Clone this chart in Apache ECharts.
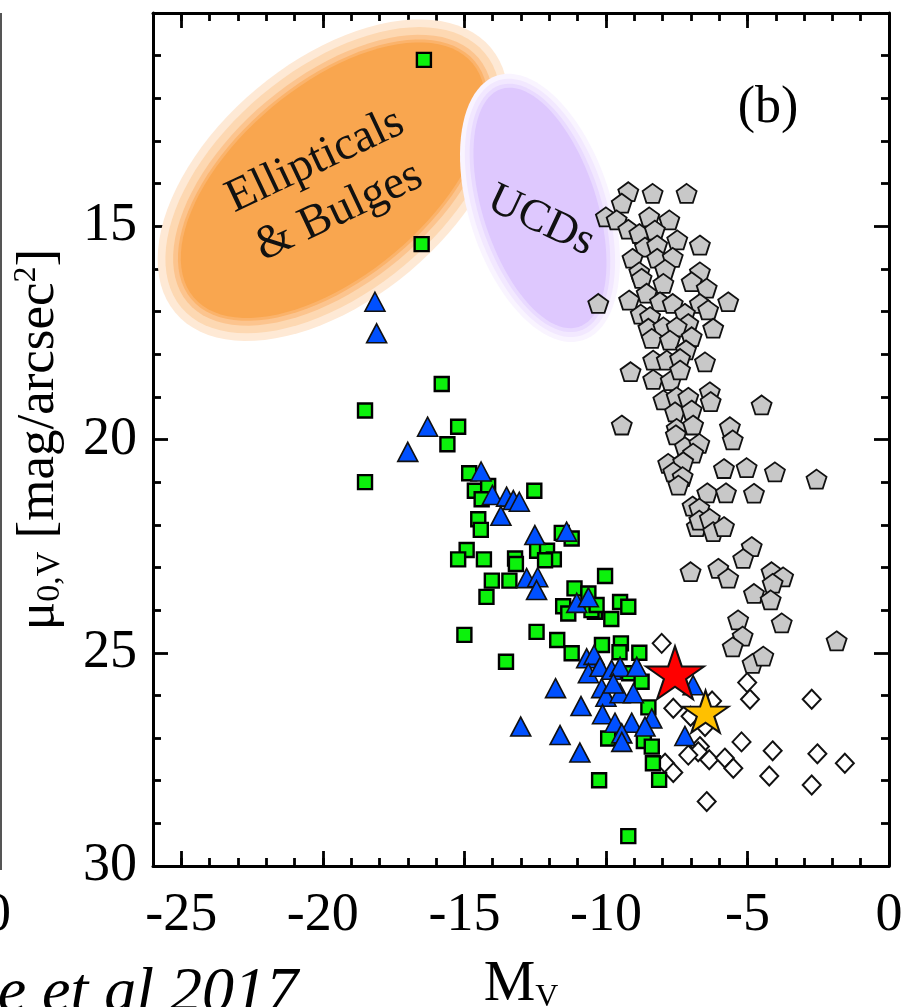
<!DOCTYPE html>
<html><head><meta charset="utf-8">
<script src="https://cdn.jsdelivr.net/npm/echarts@6/dist/echarts.min.js"></script>
<style>html,body{margin:0;padding:0;background:#fff}#c{width:905px;height:1007px}</style>
</head><body><div id="c"></div>
<script>
// ---------- data ----------
const xMajorTicks = [-25, -20, -15, -10, -5, 0];
const yTickLabels = [15, 20, 25, 30];

const greenSquares = [[-16.43,11.10],[-16.51,15.42],[-15.80,18.70],[-18.51,19.32],[-15.22,19.70],[-15.60,20.11],[-18.51,21.00],[-14.83,20.79],[-14.63,21.20],[-14.16,21.09],[-14.39,21.40],[-12.53,21.20],[-14.51,21.87],[-14.42,22.12],[-11.56,22.19],[-11.21,22.32],[-14.92,22.59],[-15.22,22.81],[-14.31,22.81],[-13.21,22.79],[-13.18,22.92],[-12.43,22.61],[-12.08,22.61],[-11.84,22.81],[-12.15,22.83],[-14.03,23.31],[-13.41,23.31],[-14.22,23.69],[-10.03,23.20],[-11.11,23.49],[-10.62,23.61],[-11.51,23.91],[-11.33,24.08],[-10.39,24.04],[-10.51,24.00],[-10.33,23.88],[-9.50,23.81],[-9.21,23.92],[-9.81,24.21],[-15.00,24.58],[-12.45,24.51],[-11.72,24.70],[-13.53,25.21],[-11.21,25.01],[-10.14,24.82],[-9.47,24.78],[-9.52,24.99],[-8.82,25.00],[-9.18,25.48],[-8.74,25.68],[-8.50,26.28],[-9.92,27.01],[-8.66,27.07],[-8.38,27.20],[-8.34,27.59],[-8.12,27.98],[-10.24,27.99],[-9.21,29.30]];

const blueTriangles = [[-18.16,16.77],[-18.10,17.51],[-16.30,19.70],[-17.00,20.29],[-14.41,20.75],[-14.01,21.30],[-13.51,21.34],[-13.27,21.42],[-13.06,21.46],[-13.71,21.79],[-12.51,22.24],[-11.39,22.16],[-12.80,23.25],[-12.41,23.23],[-12.45,23.53],[-11.03,23.83],[-10.62,23.70],[-10.68,25.13],[-10.42,25.05],[-10.62,25.48],[-10.21,25.33],[-9.80,25.40],[-9.50,25.33],[-8.91,25.33],[-6.92,25.76],[-11.78,25.83],[-10.15,25.83],[-10.00,26.03],[-9.50,25.95],[-9.03,25.95],[-9.74,25.72],[-10.88,26.25],[-10.12,26.44],[-9.68,26.64],[-9.09,26.64],[-8.38,26.54],[-8.62,26.73],[-9.44,26.89],[-9.44,27.09],[-13.01,26.73],[-11.62,26.93],[-10.92,27.34],[-7.21,26.95]];

const grayPentagons = [[-9.21,14.19],[-8.35,14.23],[-7.15,14.23],[-9.44,14.46],[-10.00,14.78],[-9.62,14.85],[-8.47,14.78],[-7.76,14.85],[-9.21,15.07],[-8.82,15.17],[-8.27,15.09],[-7.48,15.32],[-6.68,15.44],[-8.62,15.49],[-8.19,15.44],[-9.06,15.75],[-8.19,15.75],[-7.64,15.73],[-8.82,16.07],[-7.91,16.01],[-8.74,16.22],[-6.68,16.07],[-6.97,16.30],[-7.97,16.34],[-6.44,16.45],[-10.27,16.81],[-9.18,16.73],[-8.56,16.57],[-8.09,16.77],[-7.64,16.81],[-6.68,16.81],[-6.39,16.96],[-5.68,16.77],[-8.77,17.06],[-8.44,17.12],[-7.21,17.04],[-7.09,17.28],[-8.50,17.39],[-7.97,17.36],[-7.50,17.36],[-6.21,17.39],[-8.38,17.63],[-7.74,17.67],[-6.97,17.59],[-7.17,17.90],[-8.33,18.14],[-7.85,18.14],[-7.38,18.10],[-6.50,18.18],[-9.13,18.41],[-8.33,18.59],[-7.71,18.62],[-7.38,18.37],[-7.97,19.07],[-7.50,19.00],[-7.09,19.01],[-6.33,18.88],[-6.30,19.11],[-4.50,19.19],[-7.56,19.35],[-6.97,19.31],[-9.44,19.66],[-7.50,19.74],[-6.92,19.66],[-5.62,19.70],[-5.52,20.01],[-7.53,19.89],[-7.21,20.17],[-6.70,20.09],[-6.92,20.32],[-7.80,20.56],[-7.27,20.52],[-7.62,20.76],[-7.29,20.87],[-7.44,21.07],[-5.83,20.68],[-5.03,20.66],[-4.03,20.76],[-2.56,20.93],[-6.42,21.25],[-5.76,21.25],[-4.77,21.26],[-6.94,21.56],[-6.70,21.61],[-6.79,22.04],[-6.70,21.89],[-6.33,21.85],[-6.21,22.16],[-5.83,22.04],[-4.85,22.51],[-5.15,22.79],[-7.01,23.10],[-6.03,23.02],[-5.68,23.25],[-4.15,23.10],[-3.74,23.22],[-4.11,23.37],[-4.77,23.61],[-4.18,23.76],[-5.33,24.23],[-3.79,24.30],[-5.17,24.61],[-5.52,24.86],[-4.82,25.25],[-4.44,25.08],[-1.85,24.72]];

const openDiamonds = [[-8.03,24.78],[-5.01,25.70],[-4.91,26.09],[-2.73,26.09],[-7.62,26.30],[-7.01,26.49],[-6.25,26.13],[-6.50,26.73],[-5.21,27.09],[-6.68,27.20],[-6.74,27.32],[-7.09,27.40],[-6.35,27.51],[-5.80,27.47],[-5.50,27.71],[-4.11,27.30],[-2.53,27.37],[-1.56,27.59],[-7.91,27.59],[-7.62,27.81],[-4.23,27.89],[-2.73,28.10],[-6.44,28.49]];

const redStar = [[-7.56, 25.47]];
const yellowStar = [[-6.48, 26.38]];

// regions: [centreX, centreY, semi-major, semi-minor (x-axis units), angle deg]
const ellipticalsRegion = [-19.64, 13.92, 6.43, 3.36, 40];
const ucdRegion = [-12.33, 14.57, 4.42, 2.01, 108];

// ---------- styling ----------
const SERIF = '"Liberation Serif", "Times New Roman", serif';
const PENTAGON = 'path://M0,-1L0.951,-0.309L0.588,0.809L-0.588,0.809L-0.951,-0.309Z';
const STAR = 'path://M0,-1L0.2245,-0.309L0.951,-0.309L0.363,0.118L0.588,0.809L0,0.382L-0.588,0.809L-0.363,0.118L-0.951,-0.309L-0.2245,-0.309Z';

function ellipsePts(cx, cy, a, b, deg) {
  const t = deg * Math.PI / 180;
  const ux = Math.cos(t), uy = -Math.sin(t), vx = Math.sin(t), vy = Math.cos(t);
  const pts = [];
  for (let i = 0; i < 96; i++) {
    const s = 2 * Math.PI * i / 96, ca = a * Math.cos(s), sb = b * Math.sin(s);
    pts.push([cx + ca * ux + sb * vx, cy + ca * uy + sb * vy]);
  }
  return pts;
}

function regionRenderer(region, layers, label) {
  return function (params, api) {
    const c = api.coord([api.value(0), api.value(1)]);
    const k = api.size([1, 0])[0];
    const a = region[2] * k, b = region[3] * k;
    const children = layers.map(l => ({
      type: 'polygon',
      shape: { points: ellipsePts(c[0], c[1], a + l.grow, b + l.grow, region[4]) },
      style: { fill: l.color }
    }));
    children.push({
      type: 'text', x: c[0] + label.dx, y: c[1] + label.dy, rotation: label.rot,
      style: { text: label.text, fontSize: label.size, fontFamily: SERIF, fill: '#111',
               align: 'center', verticalAlign: 'middle', lineHeight: label.lh }
    });
    return { type: 'group', children };
  };
}

const chart = echarts.init(document.getElementById('c'), null, { renderer: 'canvas' });

const tickStyle = { color: '#000', width: 2.8 };
function xAxisDef(pos, major, labels) {
  const ax = {
    type: 'value', position: pos, min: -26, max: 0, interval: 1,
    axisLine: { show: true, onZero: false, lineStyle: { color: '#000', width: 3 } },
    axisTick: { show: true, inside: true, length: major ? 15 : 8, lineStyle: tickStyle },
    axisLabel: { show: false },
    splitLine: { show: false }
  };
  if (major) {
    ax.axisTick.customValues = xMajorTicks;
    ax.axisLine.show = false;
  }
  if (labels) {
    ax.axisLabel = { show: true, customValues: xMajorTicks, fontSize: 54, fontFamily: SERIF,
                     color: '#000', margin: 23, lineHeight: 54 };
    ax.name = 'M{s|V}';
    ax.nameLocation = 'middle';
    ax.nameGap = 90;
    ax.nameTextStyle = {
      fontSize: 58, fontFamily: SERIF, color: '#000', lineHeight: 58,
      rich: { s: { fontSize: 32, fontFamily: SERIF, color: '#000', verticalAlign: 'bottom', lineHeight: 4 } }
    };
  }
  return ax;
}
function yAxisDef(pos, labels) {
  const ax = {
    type: 'value', position: pos, inverse: true, min: 10, max: 30, interval: 5,
    axisLine: { show: true, onZero: false, lineStyle: { color: '#000', width: 3 } },
    axisTick: { show: true, inside: true, length: 15, lineStyle: tickStyle },
    minorTick: { show: true, splitNumber: 5, length: 8, lineStyle: tickStyle },
    axisLabel: { show: false },
    splitLine: { show: false }, minorSplitLine: { show: false }
  };
  if (labels) {
    ax.axisLabel = { show: true, fontSize: 54, fontFamily: SERIF, color: '#000', margin: 16,
                     formatter: v => (yTickLabels.indexOf(v) >= 0 ? String(v) : '') };
    ax.name = '\u03bc{s|0,V} [mag/arcsec{p|2}]';
    ax.nameLocation = 'middle';
    ax.nameRotate = 90;
    ax.nameGap = 86;
    ax.nameTextStyle = {
      fontSize: 53, fontFamily: SERIF, color: '#000', lineHeight: 56,
      rich: {
        s: { fontSize: 34, fontFamily: SERIF, color: '#000', verticalAlign: 'bottom', lineHeight: 12 },
        p: { fontSize: 32, fontFamily: SERIF, color: '#000', verticalAlign: 'top', lineHeight: 16 }
      }
    };
  }
  return ax;
}

const option = {
  animation: false,
  backgroundColor: '#fff',
  grid: { left: 153, right: 16, top: 13, bottom: 141, containLabel: false, outerBoundsMode: 'none' },
  xAxis: [xAxisDef('bottom', false, false), xAxisDef('bottom', true, true),
          xAxisDef('top', false, false), xAxisDef('top', true, false)],
  yAxis: [yAxisDef('left', true), yAxisDef('right', false)],
  graphic: [
    { type: 'line', shape: { x1: 1, y1: 13, x2: 1, y2: 870 }, style: { stroke: '#555', lineWidth: 2 } },
    { type: 'text', x: -16, y: 916, style: { text: '0', fontSize: 54, fontFamily: SERIF, fill: '#000', verticalAlign: 'middle' } },
    { type: 'text', x: 298, y: 994, style: { text: 'e et al 2017', fontSize: 64, fontStyle: 'italic', fontFamily: SERIF, fill: '#000', align: 'right', verticalAlign: 'middle' } },
    { type: 'text', x: 768, y: 108, style: { text: '(b)', fontSize: 52, fontFamily: SERIF, fill: '#000', align: 'center', verticalAlign: 'middle' } }
  ],
  series: [
    {
      type: 'custom', xAxisIndex: 0, yAxisIndex: 0, silent: true, z: 1,
      data: [[ellipticalsRegion[0], ellipticalsRegion[1]]],
      renderItem: regionRenderer(ellipticalsRegion,
        [{ grow: 24, color: '#FEE9D5' }, { grow: 16, color: '#FDD8B2' }, { grow: 8, color: '#FCC48E' },
         { grow: 3, color: '#FBB36B' }, { grow: 0, color: '#F9A64F' }],
        { text: 'Ellipticals\n& Bulges', size: 47, lh: 56, rot: 0.44, dx: -6, dy: 6 })
    },
    {
      type: 'custom', xAxisIndex: 0, yAxisIndex: 0, silent: true, z: 1,
      data: [[ucdRegion[0], ucdRegion[1]]],
      renderItem: regionRenderer(ucdRegion,
        [{ grow: 14, color: '#F9F4FF' }, { grow: 9, color: '#F2E8FF' }, { grow: 4, color: '#E9DAFF' },
         { grow: 0, color: '#DEC8FE' }],
        { text: 'UCDs', size: 45, lh: 46, rot: -0.44, dx: 1, dy: 13 })
    },
    {
      name: 'pentagons', type: 'scatter', data: grayPentagons, symbol: PENTAGON, symbolSize: [20, 19],
      itemStyle: { color: '#C8C8C8', borderColor: '#111', borderWidth: 1.8, opacity: 1 }, z: 3
    },
    {
      name: 'diamonds', type: 'scatter', data: openDiamonds, symbol: 'diamond', symbolSize: [18, 19],
      itemStyle: { color: '#FFFFFF', borderColor: '#111', borderWidth: 2, opacity: 1 }, z: 3
    },
    {
      name: 'squares', type: 'scatter', data: greenSquares, symbol: 'rect', symbolSize: 14,
      itemStyle: { color: '#0CF20C', borderColor: '#000', borderWidth: 2.4, opacity: 1 }, z: 4
    },
    {
      name: 'triangles', type: 'scatter', data: blueTriangles, symbol: 'triangle', symbolSize: [20, 19],
      itemStyle: { color: '#0050FF', borderColor: '#111', borderWidth: 1.6, opacity: 1 }, z: 5
    },
    {
      name: 'red star', type: 'scatter', data: redStar, symbol: STAR, symbolSize: [58, 53],
      itemStyle: { color: '#FF0000', borderColor: '#111', borderWidth: 2, opacity: 1 }, z: 6
    },
    {
      name: 'yellow star', type: 'scatter', data: yellowStar, symbol: STAR, symbolSize: [46, 42],
      itemStyle: { color: '#FFC000', borderColor: '#111', borderWidth: 2, opacity: 1 }, z: 7
    }
  ]
};
chart.setOption(option);
</script>
</body></html>
